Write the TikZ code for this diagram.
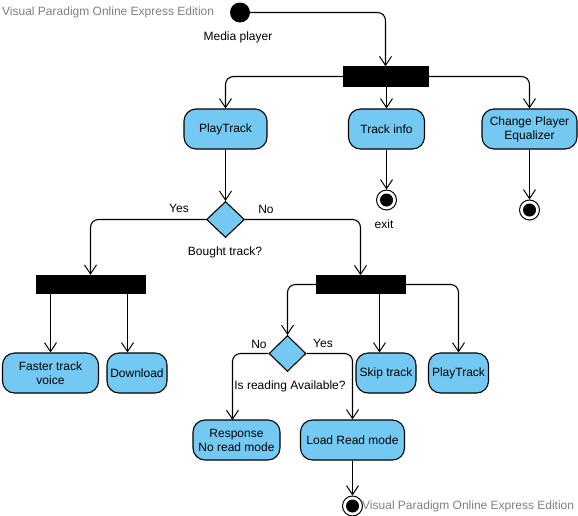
\documentclass[tikz,border=0pt]{standalone}
\usepackage{fontspec}
\setmainfont{Liberation Sans}
\usetikzlibrary{arrows.meta,shapes.geometric}
\definecolor{actfill}{RGB}{115,201,241}
\definecolor{wm}{RGB}{128,128,128}
\begin{document}
\begin{tikzpicture}[x=1pt,y=-1pt,
  font=\fontsize{12}{14}\selectfont,
  act/.style={draw=black,fill=actfill,line width=1.1pt,rounded corners=12pt,align=center,inner sep=0pt,minimum height=40pt},
  bar/.style={draw=black,fill=black,inner sep=0pt},
  dec/.style={draw=black,fill=actfill,line width=1.1pt,diamond,inner sep=0pt,minimum width=38pt,minimum height=36pt},
  startnode/.style={circle,fill=black,minimum size=20pt,inner sep=0pt},
  endnode/.style={circle,draw=black,line width=1pt,fill=white,minimum size=20pt,inner sep=0pt,path picture={\fill[black] (path picture bounding box.center) circle (6.5pt);}},
  arr/.style={line width=1.1pt,rounded corners=8pt,-{Straight Barb[length=9pt,width=12pt,line width=1pt]}},
  wmark/.style={text=wm,inner sep=0pt,anchor=west},
  lbl/.style={inner sep=0pt}
]
\useasboundingbox (0,0) rectangle (578,515);

% nodes
\node[startnode] (start) at (240,12.5) {};
\node[lbl] (startlbl) at (238,37) {Media player};
\node[bar,minimum width=85pt,minimum height=20pt] (bar1) at (385.5,76.5) {};
\node[act,minimum width=83pt] (play1) at (225.5,129) {PlayTrack};
\node[act,minimum width=76pt] (info) at (386.5,129) {Track info};
\node[act,minimum width=95pt] (eq) at (529.5,129) {Change Player\\Equalizer};
\node[endnode] (exit1) at (386.5,200) {};
\node[lbl] (exitlbl) at (384,224) {exit};
\node[endnode] (fin2) at (529.5,210) {};
\node[dec] (d1) at (225.5,219.5) {};
\node[lbl] (yes1) at (179,208) {Yes};
\node[lbl] (no1) at (266,209) {No};
\node[lbl] (d1lbl) at (225,252) {Bought track?};
\node[bar,minimum width=109pt,minimum height=18pt] (bar2) at (90.5,284) {};
\node[bar,minimum width=89pt,minimum height=18pt] (bar3) at (360.5,284.5) {};
\node[act,minimum width=96pt] (faster) at (50.5,373) {Faster track\\voice};
\node[act,minimum width=60pt] (dl) at (137,373) {Download};
\node[dec,minimum width=37pt,minimum height=36pt] (d2) at (287.5,353.5) {};
\node[lbl] (no2) at (259,344) {No};
\node[lbl] (yes2) at (323,343) {Yes};
\node[lbl] (d2lbl) at (290,386) {Is reading Available?};
\node[act,minimum width=60pt] (skip) at (386,373) {Skip track};
\node[act,minimum width=60pt] (play2) at (458.5,373) {PlayTrack};
\node[act,minimum width=87pt] (resp) at (236.5,440) {Response\\No read mode};
\node[act,minimum width=104pt] (load) at (352.5,440) {Load Read mode};
\node[endnode] (fin3) at (352.5,506) {};
\node[wmark] (wm1) at (2,12) {Visual Paradigm Online Express Edition};
\node[wmark] (wm2) at (362,506) {Visual Paradigm Online Express Edition};

\coordinate (b2dl) at (127.5,293);
\coordinate (b3sk) at (379.5,293.5);
\coordinate (rsp) at (232.5,420);

% connectors
\draw[arr] (start.east) -| (bar1.north);
\draw[arr] (bar1.west) -| (play1.north);
\draw[arr] (bar1.south -| info.north) -- (info.north);
\draw[arr] (bar1.east) -| (eq.north);
\draw[arr] (info.south) -- (exit1.north);
\draw[arr] (eq.south) -- (fin2.north);
\draw[arr] (play1.south) -- (d1.north);
\draw[arr] (d1.west) -| (bar2.north);
\draw[arr] (d1.east) -| (bar3.north);
\draw[arr] (bar2.south -| faster.north) -- (faster.north);
\draw[arr] (b2dl) -- (b2dl |- dl.north);
\draw[arr] (bar3.west) -| (d2.north);
\draw[arr] (b3sk) -- (b3sk |- skip.north);
\draw[arr] (bar3.east) -| (play2.north);
\draw[arr] (d2.west) -| (rsp);
\draw[arr] (d2.east) -| (load.north);
\draw[arr] (load.south) -- (fin3.north);
\end{tikzpicture}
\end{document}
